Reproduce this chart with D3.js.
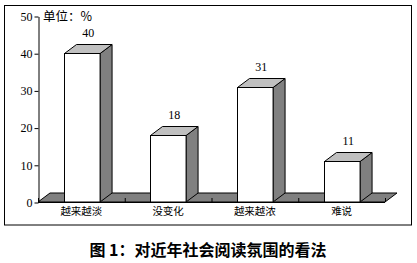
<!DOCTYPE html>
<html>
<head>
<meta charset="utf-8">
<script src="https://cdn.jsdelivr.net/npm/d3@7"></script>
<style>
body { margin: 0; background: #fff; }
</style>
</head>
<body>
<div class="featured"></div>
<script>
var categories = ["越来越淡", "没变化", "越来越浓", "难说"];
var values = [40, 18, 31, 11];
var yTicks = [0, 10, 20, 30, 40, 50];
var unitLabel = "单位：%";
var titleText = "图 1：对近年社会阅读氛围的看法";

var W = 417, H = 263;
var dx = 12, dy = -9;   // depth offset of the 3d look
var numFont = "'Liberation Serif', serif";
var cjkFont = "'Noto Sans CJK SC', sans-serif";

var svg = d3.select(".featured").append("svg")
	.attr("width", W).attr("height", H);

// outer frame
svg.append("rect").attr("x", 4.5).attr("y", 5.5).attr("width", 407).attr("height", 219.5)
	.attr("fill", "none").attr("stroke", "#000").attr("stroke-width", 1);

var x = d3.scaleBand().domain(categories).range([38, 385]);
var y = d3.scaleLinear().domain([0, 50]).range([202, 16]);

// floor
var x0 = x.range()[0], x1 = x.range()[1], y0 = y(0);
svg.append("path")
	.attr("d", "M" + x0 + "," + y0 + "L" + x1 + "," + y0 + "L" + (x1 + dx) + "," + (y0 + dy) + "L" + (x0 + dx) + "," + (y0 + dy) + "Z")
	.attr("fill", "#808080").attr("stroke", "#000").attr("stroke-width", 1);

// small ticks between categories
var bounds = categories.map(function(c) { return x(c); }).concat([x1]);
svg.selectAll(".xt").data(bounds).enter().append("line")
	.attr("x1", function(d) { return d + 0.5; }).attr("x2", function(d) { return d + 0.5; })
	.attr("y1", y0).attr("y2", y0 - 4)
	.attr("stroke", "#000");

// bars
var bw = x.bandwidth() * 0.41;
var bars = svg.selectAll(".bar").data(values).enter().append("g");
function bl(d, i) { return Math.round(x(categories[i]) + x.bandwidth() / 2 - bw / 2) + 0.5; }
bars.append("path") // side
	.attr("d", function(d, i) {
		var l = bl(d, i) + bw, t = Math.round(y(d)) + 0.5;
		return "M" + l + "," + t + "L" + (l + dx) + "," + (t + dy) + "L" + (l + dx) + "," + (y0 + dy) + "L" + l + "," + y0 + "Z";
	})
	.attr("fill", "#808080").attr("stroke", "#000");
bars.append("path") // top
	.attr("d", function(d, i) {
		var l = bl(d, i), t = Math.round(y(d)) + 0.5;
		return "M" + l + "," + t + "L" + (l + dx) + "," + (t + dy) + "L" + (l + bw + dx) + "," + (t + dy) + "L" + (l + bw) + "," + t + "Z";
	})
	.attr("fill", "#c0c0c0").attr("stroke", "#000");
bars.append("rect") // front
	.attr("x", function(d, i) { return bl(d, i); })
	.attr("y", function(d) { return Math.round(y(d)) + 0.5; })
	.attr("width", bw)
	.attr("height", function(d) { return y0 - Math.round(y(d)) - 0.5; })
	.attr("fill", "#fff").attr("stroke", "#000");
bars.append("text")
	.attr("x", function(d, i) { return bl(d, i) + bw / 2 + dx / 2; })
	.attr("y", function(d) { return y(d) + dy - 7; })
	.attr("text-anchor", "middle")
	.style("font", "12px " + numFont)
	.text(function(d) { return d; });

// x line on top of bar bottoms
svg.append("line").attr("x1", x0).attr("x2", x1).attr("y1", y0 + 0.5).attr("y2", y0 + 0.5).attr("stroke", "#000");

// y axis
var yAxis = svg.append("g").attr("transform", "translate(38.5,0.5)")
	.call(d3.axisLeft(y).tickValues(yTicks).tickSize(4).tickSizeOuter(0).tickPadding(2));
yAxis.selectAll("text").style("font", "12px " + numFont).attr("fill", "#000");

// category labels
svg.selectAll(".cat").data(categories).enter().append("text")
	.attr("x", function(d) { return x(d) + x.bandwidth() / 2; })
	.attr("y", 215)
	.attr("text-anchor", "middle")
	.style("font", "10.5px " + cjkFont)
	.text(function(d) { return d; });

svg.append("text").attr("x", 43).attr("y", 21)
	.style("font", "12.5px " + cjkFont)
	.text(unitLabel);

svg.append("text").attr("x", 208).attr("y", 255.5)
	.attr("text-anchor", "middle")
	.style("font", "bold 16px " + cjkFont)
	.text(titleText);
</script>
</body>
</html>
